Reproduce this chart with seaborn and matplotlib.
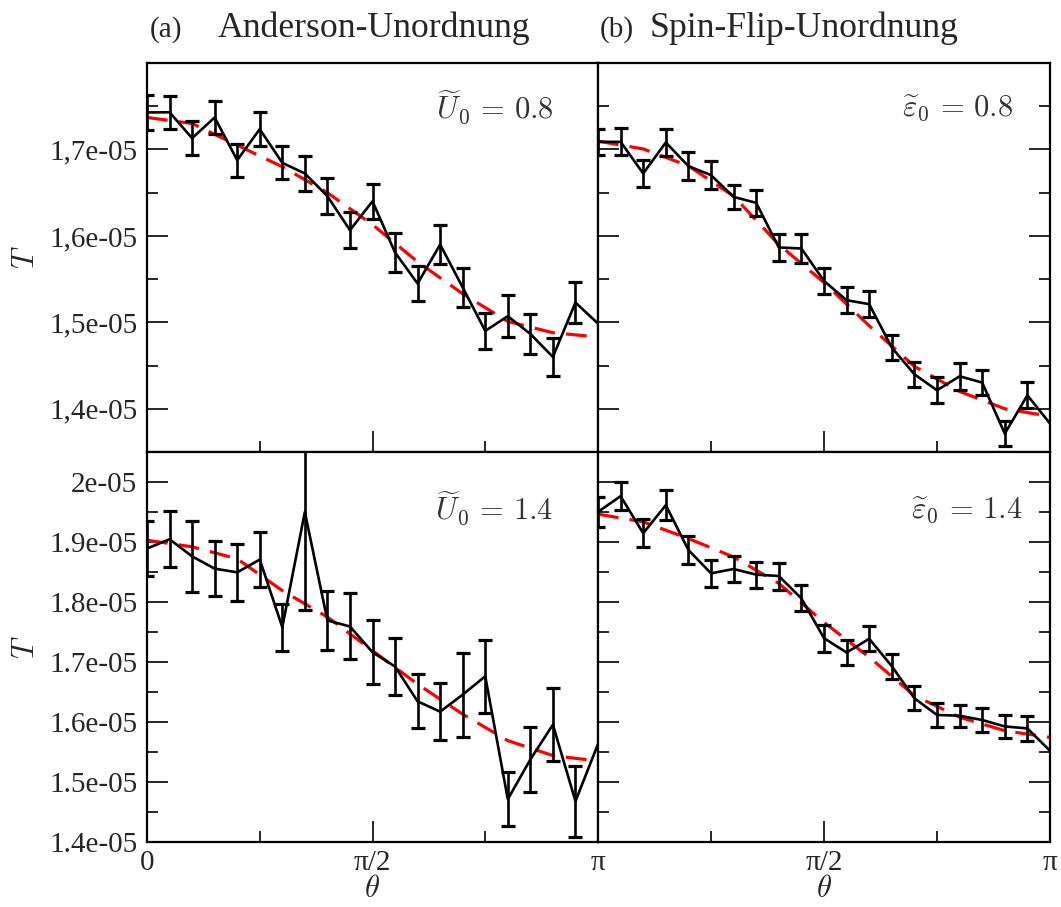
import numpy as np
import pandas as pd
import matplotlib
matplotlib.use("Agg")
import matplotlib.pyplot as plt
import seaborn as sns

# ---------------- data (T in units of 1e-5) ----------------
n_points = 21                     # theta = k*pi/20, k = 0..20
n_fit = 11                        # fit sampled at k = 0,2,...,20

anderson_08 = [1.7428, 1.7430, 1.7130, 1.7370, 1.6876, 1.7235, 1.6845, 1.6722, 1.6460, 1.6066,
               1.6400, 1.5808, 1.5449, 1.5900, 1.5403, 1.4901, 1.5071, 1.4866, 1.4600, 1.5229, 1.4986]
anderson_08_err = [0.020, 0.019, 0.020, 0.019, 0.019, 0.020, 0.019, 0.020, 0.021, 0.021,
                   0.020, 0.023, 0.020, 0.023, 0.022, 0.021, 0.024, 0.023, 0.022, 0.024]
anderson_08_fit = [1.737, 1.730, 1.705, 1.680, 1.650, 1.613, 1.570, 1.533, 1.501, 1.488, 1.483]

spinflip_08 = [1.7088, 1.7088, 1.6722, 1.7081, 1.6807, 1.6703, 1.6451, 1.6382, 1.5866, 1.5854,
               1.5479, 1.5256, 1.5210, 1.4708, 1.4399, 1.4214, 1.4376, 1.4303, 1.3713, 1.4156, 1.3829]
spinflip_08_err = [0.0149, 0.0158, 0.0160, 0.0154, 0.0160, 0.0160, 0.0140, 0.0154, 0.0158, 0.0164,
                   0.0150, 0.0150, 0.0154, 0.0140, 0.0145, 0.0150, 0.0154, 0.0145, 0.0148, 0.0150]
spinflip_08_fit = [1.7096, 1.7006, 1.681, 1.646, 1.590, 1.546, 1.496, 1.449, 1.420, 1.400, 1.3913]

anderson_14 = [1.8891, 1.9046, 1.8760, 1.8556, 1.8494, 1.8707, 1.7580, 1.9499, 1.7693, 1.7592,
               1.7163, 1.6924, 1.6344, 1.6172, 1.6456, 1.6762, 1.4713, 1.5375, 1.5955, 1.4680, 1.5632]
anderson_14_err = [0.0457, 0.0465, 0.0593, 0.0460, 0.0470, 0.0460, 0.0390, 0.1630, 0.0496, 0.0550,
                   0.0530, 0.0470, 0.0450, 0.0480, 0.0700, 0.0610, 0.0446, 0.0535, 0.0610, 0.0590]
anderson_14_fit = [1.903, 1.892, 1.872, 1.819, 1.775, 1.719, 1.663, 1.613, 1.569, 1.544, 1.535]

spinflip_14 = [1.9502, 1.9764, 1.9146, 1.9614, 1.8867, 1.8478, 1.8550, 1.8456, 1.8433, 1.8060,
               1.7397, 1.7158, 1.7387, 1.6930, 1.6395, 1.6117, 1.6105, 1.6033, 1.5926, 1.5893, 1.5520]
spinflip_14_err = [0.0245, 0.0230, 0.0230, 0.0250, 0.0230, 0.0230, 0.0217, 0.0215, 0.0225, 0.0217,
                   0.0223, 0.0203, 0.0210, 0.0210, 0.0203, 0.0195, 0.0184, 0.0203, 0.0195, 0.0203]
spinflip_14_fit = [1.9464, 1.9335, 1.9058, 1.875, 1.831, 1.766, 1.708, 1.644, 1.608, 1.5855, 1.5743]

titles = ["Anderson-Unordnung", "Spin-Flip-Unordnung"]
title_tags = ["(a)", "(b)"]
annotations = [[r"$\widetilde{U}_0\,=\,0.8$", r"$\widetilde{\varepsilon}_0\,=\,0.8$"],
               [r"$\widetilde{U}_0\,=\,1.4$", r"$\widetilde{\varepsilon}_0\,=\,1.4$"]]

top_yticks = [1.4e-5, 1.5e-5, 1.6e-5, 1.7e-5]
top_yticklabels = ["1,4e-05", "1,5e-05", "1,6e-05", "1,7e-05"]
bot_yticks = [1.4e-5, 1.5e-5, 1.6e-5, 1.7e-5, 1.8e-5, 1.9e-5, 2.0e-5]
bot_yticklabels = ["1.4e-05", "1.5e-05", "1.6e-05", "1.7e-05", "1.8e-05", "1.9e-05", "2e-05"]
xtick_labels = ["0", "π/2", "π"]

# ---------------- style ----------------
sns.set_style("white")
plt.rcParams["font.family"] = ["Liberation Serif", "DejaVu Serif"]
plt.rcParams["mathtext.fontset"] = "cm"

fig = plt.figure(figsize=(10.61, 9.07), dpi=100)
L, M, R = 147 / 1061, 598 / 1061, 1050 / 1061
T_, C_, B_ = 1 - 63 / 907, 1 - 452 / 907, 1 - 842 / 907
axes = [[fig.add_axes([L, C_, M - L, T_ - C_]), fig.add_axes([M, C_, R - M, T_ - C_])],
        [fig.add_axes([L, B_, M - L, C_ - B_]), fig.add_axes([M, B_, R - M, C_ - B_])]]

series = [[(anderson_08, anderson_08_err, anderson_08_fit), (spinflip_08, spinflip_08_err, spinflip_08_fit)],
          [(anderson_14, anderson_14_err, anderson_14_fit), (spinflip_14, spinflip_14_err, spinflip_14_fit)]]

theta = np.arange(n_points) * np.pi / (n_points - 1)
theta_fit = np.arange(n_fit) * np.pi / (n_fit - 1)
ann_pos = [[(0.902, 0.885), (0.918, 0.885)], [(0.902, 0.855), (0.94, 0.85)]]

for r in range(2):
    for c in range(2):
        ax = axes[r][c]
        vals, errs, fit = series[r][c]
        df = pd.DataFrame({"theta": theta, "T": np.array(vals) * 1e-5})
        dff = pd.DataFrame({"theta": theta_fit, "T": np.array(fit) * 1e-5})
        sns.lineplot(data=dff, x="theta", y="T", ax=ax, color="#ff0000", lw=2.3,
                     linestyle=(0, (6.5, 3.5)), errorbar=None, zorder=2)
        sns.lineplot(data=df, x="theta", y="T", ax=ax, color="black", lw=1.9,
                     errorbar=None, zorder=3)
        ne = len(errs)
        ax.errorbar(theta[:ne], df["T"].values[:ne], yerr=np.array(errs) * 1e-5, fmt="none",
                    ecolor="black", elinewidth=1.9, capsize=5, capthick=2.3, zorder=3)
        ax.set_xlim(0, np.pi)
        if r == 0:
            ax.set_ylim(1.35e-5, 1.8e-5)
            ax.set_yticks(top_yticks)
            ax.set_yticks([1.35e-5, 1.45e-5, 1.55e-5, 1.65e-5, 1.75e-5], minor=True)
            ylabels = top_yticklabels
        else:
            ax.set_ylim(1.4e-5, 2.05e-5)
            ax.set_yticks(bot_yticks)
            ax.set_yticks([1.45e-5, 1.55e-5, 1.65e-5, 1.75e-5, 1.85e-5, 1.95e-5], minor=True)
            ylabels = bot_yticklabels
        ax.set_xticks([0, np.pi / 2, np.pi])
        ax.set_xticks([np.pi / 4, 3 * np.pi / 4], minor=True)
        if c == 0:
            ax.set_yticklabels(ylabels, fontsize=21)
            ax.set_ylabel(r"$T$", fontsize=22, labelpad=6)
        else:
            ax.set_yticklabels([])
            ax.set_ylabel("")
        if r == 1:
            labs = list(xtick_labels) if c == 0 else [""] + list(xtick_labels[1:])
            ax.set_xticklabels(labs, fontsize=21)
            ax.set_xlabel(r"$\theta$", fontsize=22, labelpad=-1)
        else:
            ax.set_xticklabels([])
            ax.set_xlabel("")
        ax.tick_params(which="major", direction="in", length=15, width=1.4,
                       left=True, right=(c == 1), bottom=True, top=False, pad=7)
        ax.tick_params(axis="x", which="major", pad=6)
        ax.tick_params(which="minor", direction="in", length=8, width=1.4,
                       left=True, right=(c == 1), bottom=True, top=False)
        for s in ax.spines.values():
            s.set_linewidth(1.6)
            s.set_color("black")
        ax.text(ann_pos[r][c][0], ann_pos[r][c][1], annotations[r][c], transform=ax.transAxes,
                ha="right", va="center", fontsize=22, color="#333333")

# titles
fig.text(150 / 1061, 1 - 37 / 907, title_tags[0], fontsize=21, ha="left", va="baseline")
fig.text(218 / 1061, 1 - 37 / 907, titles[0], fontsize=25.7, ha="left", va="baseline")
fig.text(600 / 1061, 1 - 37 / 907, title_tags[1], fontsize=21, ha="left", va="baseline")
fig.text(650 / 1061, 1 - 37 / 907, titles[1], fontsize=25.7, ha="left", va="baseline")

fig.savefig("out.png", dpi=100)
